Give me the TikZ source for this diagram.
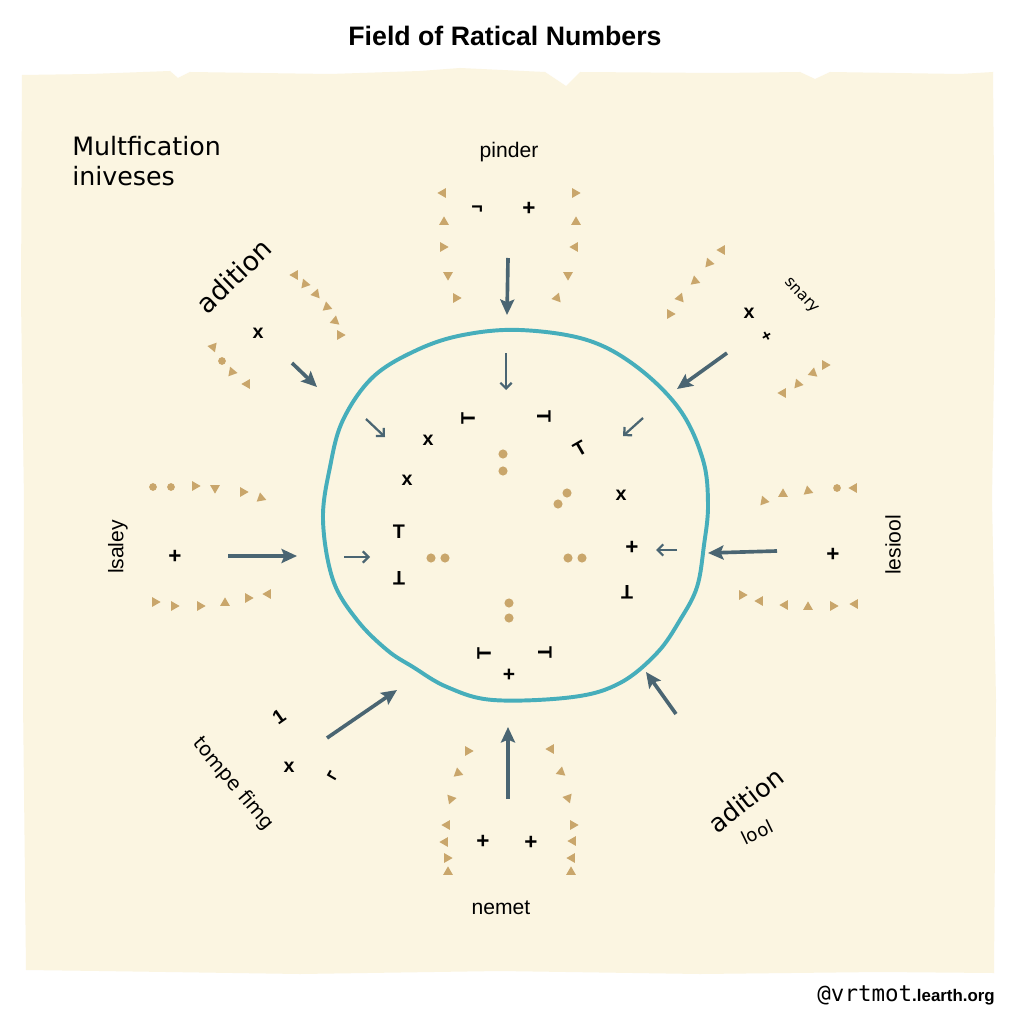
\documentclass[tikz,border=0pt]{standalone}
\usepackage{fontspec}
\setmainfont{Liberation Sans}
\newfontfamily\handfont{DejaVu Sans}
\newfontfamily\tagfont{DejaVu Sans Mono}
\usetikzlibrary{arrows.meta, shapes.geometric}
\definecolor{paper}{HTML}{FBF5E1}
\definecolor{ring}{HTML}{46AEBB}
\definecolor{pointer}{HTML}{4A6572}
\definecolor{sand}{HTML}{C9A66B}
\tikzset{
    tri/.style={regular polygon, regular polygon sides=3, fill=sand, inner sep=0pt, minimum size=8pt},
    seed/.style={circle, fill=sand, inner sep=0pt, minimum size=5.5pt},
    sym/.style={font=\bfseries\fontsize{14}{14}\selectfont, inner sep=0pt},
    outarrow/.style={draw=pointer, line width=2.6pt, -{Stealth[length=11pt, width=10pt, inset=2pt]}},
    inarrow/.style={draw=pointer, line width=1.6pt, -{Straight Barb[length=4pt, width=8pt]}},
    hand/.style={font=\handfont\fontsize{#1}{#1}\selectfont, inner sep=0pt},
    plain/.style={font=\fontsize{#1}{#1}\selectfont, inner sep=0pt}
}

\begin{document}
\begin{tikzpicture}[x=0.25mm, y=-0.25mm]
    \useasboundingbox[fill=white] (0,0) rectangle (1024,1024);
    % paper sheet
    \fill[paper] (22,75) -- (90,74) -- (170,71) -- (178,78) -- (190,72) -- (330,74) -- (420,71) -- (460,68)
        -- (545,72) -- (566,86) -- (580,72) -- (720,73) -- (800,72) -- (815,79) -- (830,72) -- (960,74)
        -- (993,72) -- (995,300) -- (992,500) -- (996,700) -- (994,973) -- (880,972) -- (700,974)
        -- (500,971) -- (300,974) -- (100,971) -- (26,970) -- (23,700) -- (24,500) -- (21,300) -- cycle;

    \node[font=\bfseries\fontsize{19}{19}\selectfont] (title) at (505,36) {Field of Ratical Numbers};
    \node[anchor=north west, align=left, inner sep=0pt, font=\handfont\fontsize{18}{21.5}\selectfont] (mult) at (72,136) {Multfication\\iniveses};

    % the field
    \draw[ring, line width=2.8pt] plot[smooth cycle, tension=0.6] coordinates {
        (520,330) (587,340) (637,367) (680,410) (703,460) (708,505) (704,545) (697,587)
        (680,620) (657,653) (620,683) (573,697) (493,700) (447,687) (413,667) (387,650)
        (357,620) (333,580) (323,520) (330,467) (343,420) (373,377) (417,350) (463,335)};

    % labels round the field
    \node[plain=15] (pinder) at (509,152) {pinder};
    \node[plain=15] (nemet) at (501,908) {nemet};
    \node[hand=19, rotate=44] (add-tl) at (234,276) {adition};
    \node[hand=18, rotate=38] (add-br) at (746,800) {adition};
    \node[hand=13, rotate=26] (lool) at (757,832) {lool};
    \node[hand=11, rotate=-47] (snary) at (801,296) {snary};
    \node[hand=14, rotate=-50] (tompe) at (233,784) {tompe fimg};
    \node[plain=15, rotate=90] (lsaley) at (118,547) {lsaley};
    \node[plain=15, rotate=90] (lesiool) at (893,545) {lesiool};

    % signs outside
    \node[sym] (s1) at (477,210) {¬};
    \node[sym, font=\bfseries\fontsize{16}{16}\selectfont] (s2) at (529,209) {+};
    \node[sym] (s3) at (258,333) {x};
    \node[sym] (s4) at (749,313) {x};
    \node[sym, rotate=30, font=\bfseries\fontsize{12}{12}\selectfont] (s5) at (767,337) {+};
    \node[sym, font=\bfseries\fontsize{16}{16}\selectfont] (s6) at (175,557) {+};
    \node[sym, font=\bfseries\fontsize{16}{16}\selectfont] (s7) at (833,555) {+};
    \node[sym, rotate=35] (s8) at (279,717) {1};
    \node[sym] (s9) at (289,767) {x};
    \node[sym, rotate=150] (s10) at (333,775) {¬};
    \node[sym, font=\bfseries\fontsize{16}{16}\selectfont] (s11) at (483,842) {+};
    \node[sym, font=\bfseries\fontsize{16}{16}\selectfont] (s12) at (531,843) {+};

    % signs inside
    \node[sym, rotate=90] (i1) at (468,418) {T};
    \node[sym, rotate=-90] (i2) at (544,417) {T};
    \node[sym, rotate=30] (i3) at (580,449) {T};
    \node[sym] (i4) at (428,440) {x};
    \node[sym] (i5) at (407,480) {x};
    \node[sym] (i6) at (621,495) {x};
    \node[sym] (i7) at (399,532) {T};
    \node[sym, rotate=180] (i8) at (399,578) {T};
    \node[sym, font=\bfseries\fontsize{16}{16}\selectfont] (i9) at (632,548) {+};
    \node[sym, rotate=180] (i10) at (627,592) {T};
    \node[sym, rotate=90] (i11) at (484,653) {T};
    \node[sym, rotate=-90] (i12) at (545,653) {T};
    \node[sym, font=\bfseries\fontsize{15}{15}\selectfont] (i13) at (509,675) {+};
    \foreach \x/\y [count=\i] in {503/454, 503/471, 567/493, 558/504, 431/558, 445/558,
        568/558, 582/558, 509/603, 509/618}
        \node[seed, minimum size=6.5pt] (dot-\i) at (\x,\y) {};

    % sand marks round the groups
    \foreach \x/\y/\r [count=\i] in {
        443/193/-30, 444/222/0, 443/247/-90, 448/275/180, 456/298/30,
        575/193/-90, 576/222/0, 575/247/90, 568/275/180, 557/298/-20,
        295/275/-30, 305/284/20, 316/294/-20, 327/307/10, 335/321/-10, 340/335/30,
        213/347/-40, 232/372/20, 247/384/-30,
        670/314/30, 680/298/-20, 695/281/10, 709/263/20, 722/250/-30,
        783/393/-30, 798/384/20, 813/373/-10, 825/365/30,
        195/486/-90, 215/488/-60, 243/492/-90, 261/498/10,
        155/602/-90, 174/606/30, 200/606/-90, 225/603/0, 248/598/-90, 268/594/-30,
        764/501/20, 783/494/0, 808/491/10, 854/488/90,
        742/595/30, 760/601/90, 785/605/90, 808/607/0, 833/606/30, 855/604/90,
        468/751/30, 458/773/10, 451/799/40, 447/825/90, 445/842/90, 447/858/-90, 448/872/0,
        551/749/-30, 561/772/-10, 568/798/-40, 573/825/-90, 573/841/90, 572/858/90, 571/872/0}
        \node[tri, rotate=\r] (mark-\i) at (\x,\y) {};
    \foreach \x/\y [count=\i] in {222/361, 153/487, 171/487, 837/488}
        \node[seed] (grain-\i) at (\x,\y) {};

    % arrows onto the field
    \foreach \n/\xa/\ya/\xb/\yb in {top/508/258/507/315, tl/292/363/317/387, tr/727/353/677/389,
        left/228/556/297/556, right/777/551/708/553, bl/327/738/397/690,
        bottom/508/799/508/727, br/676/714/646/672} {
        \coordinate (\n-from) at (\xa,\ya);
        \coordinate (\n-to) at (\xb,\yb);
        \draw[outarrow] (\n-from) -- (\n-to);
    }
    \foreach \n/\xa/\ya/\xb/\yb in {top/506/353/506/390, tl/366/419/385/437, tr/643/418/623/436,
        left/344/557/370/557, right/677/550/656/550} {
        \coordinate (in-\n-from) at (\xa,\ya);
        \coordinate (in-\n-to) at (\xb,\yb);
        \draw[inarrow] (in-\n-from) -- (in-\n-to);
    }

    \node[anchor=base east, inner sep=0pt] (credit) at (995,1001)
        {{\tagfont\fontsize{16}{16}\selectfont @vrtmot}{\bfseries\fontsize{12}{12}\selectfont .learth.org}};
\end{tikzpicture}
\end{document}
